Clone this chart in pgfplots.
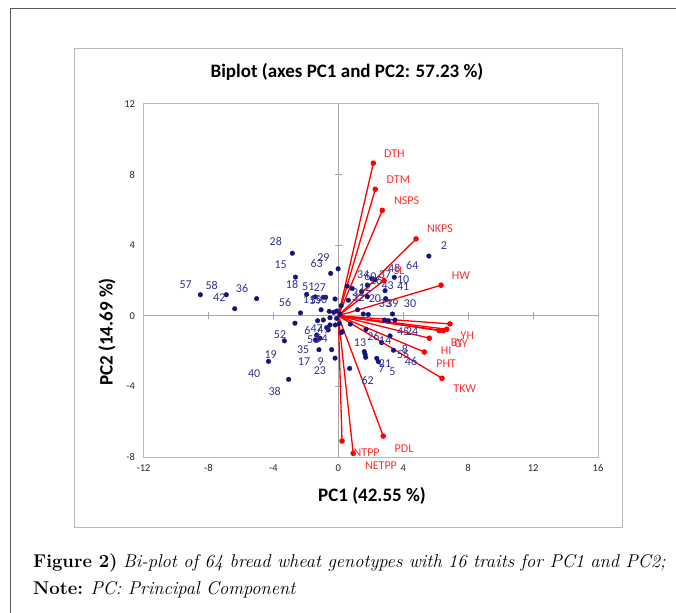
\documentclass[border=0pt]{standalone}
\usepackage{fontspec}
\usepackage{pgfplots}
\pgfplotsset{compat=1.18}
\newfontfamily\calfont{Carlito}
\definecolor{dotnavy}{RGB}{20,20,120}
\definecolor{lblblue}{RGB}{46,49,146}
\definecolor{vred}{RGB}{255,0,0}
\definecolor{lred}{RGB}{255,45,45}
\definecolor{axgray}{RGB}{165,165,165}
\definecolor{boxgray}{RGB}{185,185,185}
\pgfplotstableread{
x y
-8.50 1.19
-6.90 1.19
-6.38 0.40
-5.03 0.97
-2.83 3.54
-2.64 2.19
-0.47 2.40
-0.01 2.66
-1.95 1.21
-1.42 1.07
-0.92 1.05
-0.78 1.05
-0.20 0.95
-1.06 0.34
-2.33 0.16
-0.56 0.25
-0.28 0.20
-0.10 0.27
0.18 0.57
-2.67 -0.42
-1.27 -0.28
-0.92 -0.24
-0.51 -0.11
-0.51 -0.52
-0.18 -0.52
0.06 -0.43
-0.68 -0.68
-0.62 -0.80
0.24 -0.90
-3.32 -1.42
-1.33 -1.09
-1.13 -1.27
-1.40 -1.37
-1.19 -1.92
-0.41 -1.92
-0.20 -2.40
0.70 -2.98
-4.30 -2.58
-3.06 -3.60
5.58 3.38
0.55 1.68
0.86 1.54
1.44 1.37
1.79 1.74
2.26 2.03
2.07 2.10
3.45 2.18
2.88 1.42
1.79 1.08
0.62 0.88
2.92 0.97
1.19 0.34
1.54 0.10
1.85 0.07
3.34 0.10
2.84 -0.24
3.08 -0.28
3.49 -0.24
0.74 -0.47
0.17 -0.96
1.71 -0.77
3.19 -1.14
3.40 -1.95
2.67 -1.52
1.60 -2.03
1.65 -2.18
1.69 -2.35
2.37 -2.41
2.47 -2.60
0.10 0.10
-0.10 -0.15
}\dotstab
\pgfplotstableread{
x y lab
-9.40 1.78 57
-7.80 1.74 58
-7.33 1.05 42
-5.93 1.56 36
-3.85 4.20 28
-3.55 2.88 15
-1.33 2.97 63
-0.92 3.31 29
-2.85 1.78 18
-1.85 1.65 51
-1.13 1.59 27
-3.28 0.74 56
-1.80 0.89 11
-1.38 0.86 59
-1.05 0.92 50
-3.59 -1.09 52
-1.90 -0.86 6
-1.33 -0.75 47
-0.92 -0.80 49
-1.54 -1.37 53
-1.02 -1.27 54
-2.16 -1.94 35
-2.11 -2.60 17
-1.08 -2.60 9
-1.13 -3.13 23
-4.17 -2.18 19
-5.18 -3.26 40
-3.92 -4.26 38
6.51 3.98 2
4.56 2.82 64
3.45 2.69 48
1.54 2.31 34
1.98 2.22 60
2.33 2.00 16
2.88 2.31 37
4.00 2.03 10
4.00 1.65 41
3.04 1.71 43
1.65 1.61 12
1.23 1.30 31
1.23 1.05 32
2.26 0.99 20
2.88 0.67 33
3.33 0.67 39
4.42 0.71 30
4.00 -0.90 45
4.55 -0.90 24
2.16 -1.18 26
1.34 -1.52 13
2.88 -1.43 14
4.11 -1.90 8
4.00 -2.22 55
4.48 -2.60 46
2.88 -2.73 21
2.67 -2.97 7
3.33 -3.16 5
1.81 -3.64 62
}\lbls
\pgfplotstableread{
x y lab
3.45 9.20 DTH
3.70 7.73 DTM
4.21 6.52 NSPS
6.27 4.92 NKPS
7.56 2.29 HW
3.75 2.55 SL
7.95 -1.14 YH
7.30 -1.50 BY
7.56 -1.56 GY
6.64 -1.99 HI
6.64 -2.73 PHT
7.79 -4.13 TKW
4.05 -7.50 PDL
1.75 -7.75 NTPP
2.63 -8.50 NETPP
}\vlbls
\begin{document}
\begin{tikzpicture}
\useasboundingbox (0,0) rectangle (676pt,612pt);
\draw[black!65, line width=0.8pt] (10pt,-20pt) -- (10pt,604pt) -- (700pt,604pt);
\draw[boxgray, line width=0.8pt] (74pt,564pt) rectangle (622pt,85pt);
\node[font=\calfont\bfseries\fontsize{19}{22}\selectfont] at (347pt,540pt) {Biplot (axes PC1 and PC2: 57.23 \%)};
\node[font=\calfont\bfseries\fontsize{19}{22}\selectfont] at (372pt,116pt) {PC1 (42.55 \%)};
\node[font=\calfont\bfseries\fontsize{19}{22}\selectfont, rotate=90] at (107pt,280pt) {PC2 (14.69 \%)};
\begin{axis}[
  at={(143.5pt,154.9pt)}, anchor=south west,
  scale only axis, width=454.5pt, height=353.3pt,
  xmin=-12, xmax=16, ymin=-8, ymax=12,
  xtick={-12,-8,...,16}, ytick={-8,-4,...,12},
  major tick length=0pt,
  axis line style={boxgray, line width=0.8pt},
  clip=false,
  /pgf/number format/assume math mode=true,
  tick label style={font=\calfont\fontsize{10.5}{12}\selectfont, text=black!85},
  xticklabel style={yshift=-4pt},
  yticklabel style={xshift=-5pt},
]
\draw[axgray, line width=0.9pt] (axis cs:0,-8) -- (axis cs:0,12);
\draw[axgray, line width=0.9pt] (axis cs:-12,0) -- (axis cs:16,0);
\draw[axgray, line width=0.9pt] ([xshift=-3.5pt]axis cs:0,-4) -- ([xshift=3.5pt]axis cs:0,-4);
\draw[axgray, line width=0.9pt] ([xshift=-3.5pt]axis cs:0,4) -- ([xshift=3.5pt]axis cs:0,4);
\draw[axgray, line width=0.9pt] ([xshift=-3.5pt]axis cs:0,8) -- ([xshift=3.5pt]axis cs:0,8);
\draw[axgray, line width=0.9pt] ([yshift=-3.5pt]axis cs:-8,0) -- ([yshift=3.5pt]axis cs:-8,0);
\draw[axgray, line width=0.9pt] ([yshift=-3.5pt]axis cs:-4,0) -- ([yshift=3.5pt]axis cs:-4,0);
\draw[axgray, line width=0.9pt] ([yshift=-3.5pt]axis cs:4,0) -- ([yshift=3.5pt]axis cs:4,0);
\draw[axgray, line width=0.9pt] ([yshift=-3.5pt]axis cs:8,0) -- ([yshift=3.5pt]axis cs:8,0);
\draw[axgray, line width=0.9pt] ([yshift=-3.5pt]axis cs:12,0) -- ([yshift=3.5pt]axis cs:12,0);
\pgfplotsset{vec/.style={vred, line width=1.3pt, mark=*, mark indices={2}, mark size=2.1pt, mark options={fill=vred, draw=vred}}}
\addplot[vec] coordinates {(0,0) (2.16,8.64)};
\addplot[vec] coordinates {(0,0) (2.28,7.16)};
\addplot[vec] coordinates {(0,0) (2.71,5.97)};
\addplot[vec] coordinates {(0,0) (4.79,4.35)};
\addplot[vec] coordinates {(0,0) (6.33,1.73)};
\addplot[vec] coordinates {(0,0) (2.82,2.00)};
\addplot[vec] coordinates {(0,0) (6.88,-0.46)};
\addplot[vec] coordinates {(0,0) (6.68,-0.76)};
\addplot[vec] coordinates {(0,0) (6.47,-0.84)};
\addplot[vec] coordinates {(0,0) (6.22,-0.84)};
\addplot[vec] coordinates {(0,0) (5.61,-1.27)};
\addplot[vec] coordinates {(0,0) (5.30,-2.05)};
\addplot[vec] coordinates {(0,0) (6.39,-3.54)};
\addplot[vec] coordinates {(0,0) (2.77,-6.81)};
\addplot[vec] coordinates {(0,0) (0.23,-7.09)};
\addplot[vec] coordinates {(0,0) (0.92,-7.79)};
\addplot[only marks, mark=*, mark size=2.3pt, color=dotnavy, mark options={fill=dotnavy}] table {\dotstab};
\addplot[only marks, mark=none, nodes near coords, point meta=explicit symbolic,
  nodes near coords style={anchor=center, inner sep=0pt, font=\calfont\fontsize{12}{14}\selectfont, text=lblblue}]
  table[meta=lab] {\lbls};
\addplot[only marks, mark=none, nodes near coords, point meta=explicit symbolic,
  nodes near coords style={anchor=center, inner sep=0pt, font=\calfont\fontsize{12}{14}\selectfont, text=lred}]
  table[meta=lab] {\vlbls};
\end{axis}
\node[anchor=west, inner sep=0pt, font=\fontsize{18.5}{21}\selectfont] at (33pt,49pt) {\addfontfeatures{Numbers=OldStyle}\textbf{Figure 2)} \textit{Bi-plot of 64 bread wheat genotypes with 16 traits for PC1 and PC2;}};
\node[anchor=west, inner sep=0pt, font=\fontsize{18.5}{21}\selectfont] at (33pt,22pt) {\textbf{Note:} \textit{PC: Principal Component}};
\end{tikzpicture}
\end{document}
